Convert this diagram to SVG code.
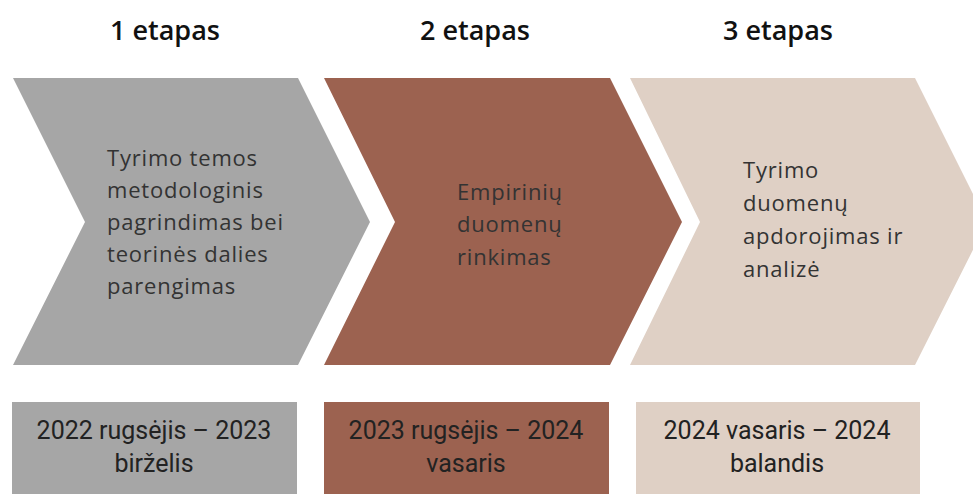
<svg xmlns="http://www.w3.org/2000/svg" width="973" height="494" viewBox="0 0 973 494">
<style>
.h{font-family:"Open Sans","Liberation Sans",sans-serif;font-weight:600;font-size:27px;fill:#111;text-anchor:middle}
.t{font-family:"Open Sans","Liberation Sans",sans-serif;font-size:22px;letter-spacing:0.8px;fill:#333}
.d{font-family:"Roboto","Liberation Sans",sans-serif;font-size:25px;fill:#222;text-anchor:middle}
.g{fill:#a6a6a6}.b{fill:#9c6250}.s{fill:#dfd0c5}
</style>
<rect width="973" height="494" fill="#fff"/>
<g id="headers">
<text class="h" x="165" y="40">1 etapas</text>
<text class="h" x="475" y="40">2 etapas</text>
<text class="h" x="778" y="40">3 etapas</text>
</g>
<g id="stage1">
<polygon class="g" points="13,78 298,78 370,222 298,365 13,365 85,222"/>
<text class="t" x="107" y="166">Tyrimo temos</text>
<text class="t" x="107" y="198">metodologinis</text>
<text class="t" x="107" y="230">pagrindimas bei</text>
<text class="t" x="107" y="262">teorinės dalies</text>
<text class="t" x="107" y="294">parengimas</text>
</g>
<g id="stage2">
<polygon class="b" points="324,78 610,78 682,222 610,365 324,365 395,222"/>
<text class="t" x="457" y="200">Empirinių</text>
<text class="t" x="457" y="232">duomenų</text>
<text class="t" x="457" y="265">rinkimas</text>
</g>
<g id="stage3">
<polygon class="s" points="630,78 915,78 987,222 915,365 630,365 700,222"/>
<text class="t" x="743" y="178">Tyrimo</text>
<text class="t" x="743" y="211">duomenų</text>
<text class="t" x="743" y="244">apdorojimas ir</text>
<text class="t" x="743" y="277">analizė</text>
</g>
<g id="date1">
<rect class="g" x="12" y="402" width="285" height="92"/>
<text class="d" x="154" y="439">2022 rugsėjis – 2023</text>
<text class="d" x="154" y="472">birželis</text>
</g>
<g id="date2">
<rect class="b" x="324" y="402" width="285" height="92"/>
<text class="d" x="466" y="439">2023 rugsėjis – 2024</text>
<text class="d" x="466" y="472">vasaris</text>
</g>
<g id="date3">
<rect class="s" x="636" y="402" width="284" height="92"/>
<text class="d" x="777" y="439">2024 vasaris – 2024</text>
<text class="d" x="777" y="472">balandis</text>
</g>
<g id="connectors"/>
</svg>
